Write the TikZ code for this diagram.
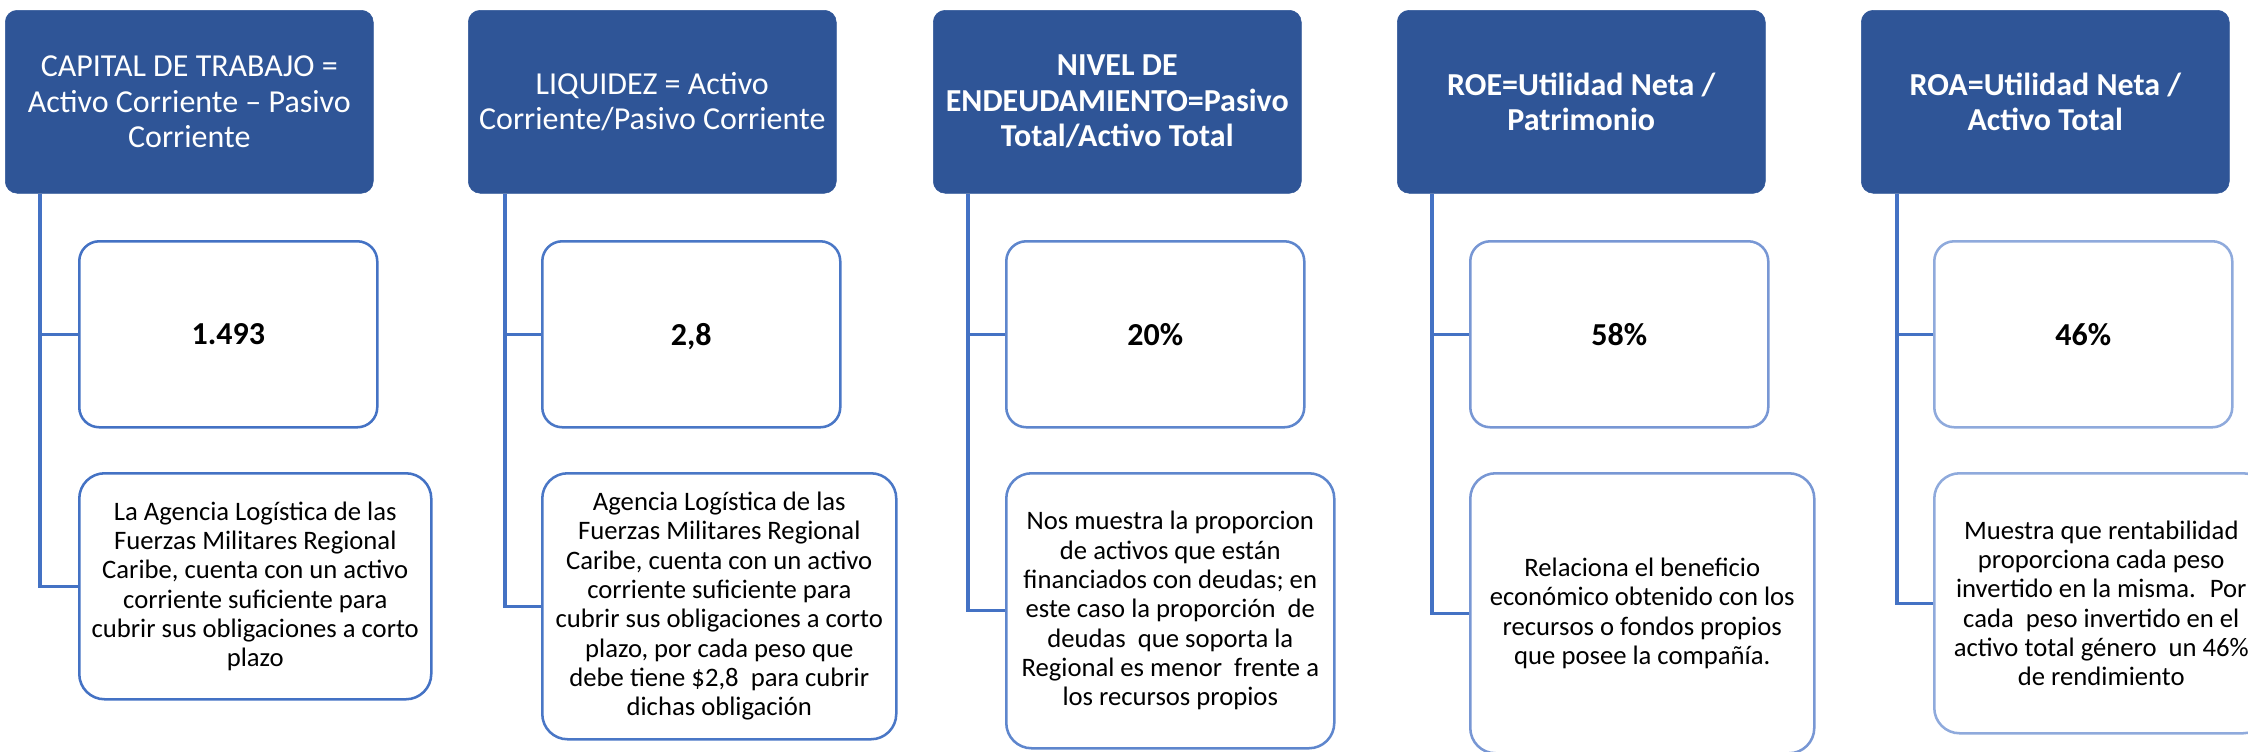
\documentclass[tikz,border=0pt]{standalone}
\usepackage{fontspec}
\setmainfont{Carlito}
\usetikzlibrary{calc}
\definecolor{hdrblue}{HTML}{2F5597}
\definecolor{lineblue}{HTML}{4472C4}
\definecolor{ca}{HTML}{4472C4}
\definecolor{cb}{HTML}{4A77C6}
\definecolor{cc}{HTML}{5E86CD}
\definecolor{cd}{HTML}{7897D4}
\definecolor{ce}{HTML}{8FAADC}
\begin{document}
\begin{tikzpicture}[x=0.75pt,y=-0.75pt]
\useasboundingbox (0,0) rectangle (2248,751);
\tikzset{
 hdr/.style={anchor=north west, draw=hdrblue, fill=hdrblue, rounded corners=9pt,
   minimum width=276pt, minimum height=137.25pt, text=white, align=center,
   font=\fontsize{24}{26.6}\selectfont, inner sep=0pt},
 hdrbold/.style={hdr, font=\fontsize{24}{26.6}\selectfont\bfseries},
 valbox/.style={anchor=north west, draw=#1, line width=1.9pt, fill=white, rounded corners=15pt,
   minimum width=223.5pt, minimum height=139.5pt, font=\fontsize{24}{27}\selectfont\bfseries,
   inner sep=0pt, text depth=0pt},
 descbox/.style={anchor=north west, draw=#1, line width=1.9pt, fill=white, rounded corners=19pt,
   align=center, font=\fontsize{20}{22}\selectfont, inner sep=0pt},
 conn/.style={draw=lineblue, line width=2.3pt},
}
% column 1
\node[hdr] (h1) at (5,10) {CAPITAL DE TRABAJO =\\Activo Corriente -- Pasivo\\Corriente};
\node[valbox=ca] (v1) at (78,240) {1.493};
\node[descbox=ca, minimum width=264pt, minimum height=169.5pt] (d1) at (78,472)
 {La Agencia Logística de las\\Fuerzas Militares Regional\\Caribe, cuenta con un activo\\corriente suficiente para\\cubrir sus obligaciones a corto\\plazo};
% column 2
\node[hdr] (h2) at (468,10) {LIQUIDEZ = Activo\\Corriente/Pasivo Corriente};
\node[valbox=cb] (v2) at (541,240) {2,8};
\node[descbox=cb, minimum width=265.5pt, minimum height=199.5pt] (d2) at (541,472)
 {Agencia Logística de las\\Fuerzas Militares Regional\\Caribe, cuenta con un activo\\corriente suficiente para\\cubrir sus obligaciones a corto\\plazo, por cada peso que\\debe tiene \$2,8 \ para cubrir\\dichas obligación};
% column 3
\node[hdrbold] (h3) at (933,10) {NIVEL DE\\ENDEUDAMIENTO=Pasivo\\Total/Activo Total};
\node[valbox=cc] (v3) at (1005,240) {20\%};
\node[descbox=cc, minimum width=246pt, minimum height=206.25pt] (d3) at (1005,472)
 {Nos muestra la proporcion\\de activos que están\\financiados con deudas; en\\este caso la proporción \ de\\deudas \ que soporta la\\Regional es menor \ frente a\\los recursos propios};
% column 4
\node[hdrbold] (h4) at (1397,10) {ROE=Utilidad Neta /\\Patrimonio};
\node[valbox=cd] (v4) at (1469,240) {58\%};
\node[descbox=cd, minimum width=258pt, minimum height=210pt] (d4) at (1469,472)
 {Relaciona el beneficio\\económico obtenido con los\\recursos o fondos propios\\que posee la compañía.};
% column 5
\node[hdrbold] (h5) at (1861,10) {ROA=Utilidad Neta /\\Activo Total};
\node[valbox=ce] (v5) at (1933,240) {46\%};
\node[descbox=ce, minimum width=250.5pt, minimum height=195pt] (d5) at (1933,472)
 {Muestra que rentabilidad\\proporciona cada peso\\invertido en la misma. \ Por\\cada \ peso invertido en el\\activo total género \ un 46\%\\de rendimiento};
% connectors
\foreach \i/\dx in {1/35,2/37,3/35,4/35,5/36}{
  \draw[conn] ($(h\i.south west)+(\dx,0)$) |- (v\i.west);
  \draw[conn] ($(h\i.south west)+(\dx,0)$) |- (d\i.west);
}
\end{tikzpicture}
\end{document}
